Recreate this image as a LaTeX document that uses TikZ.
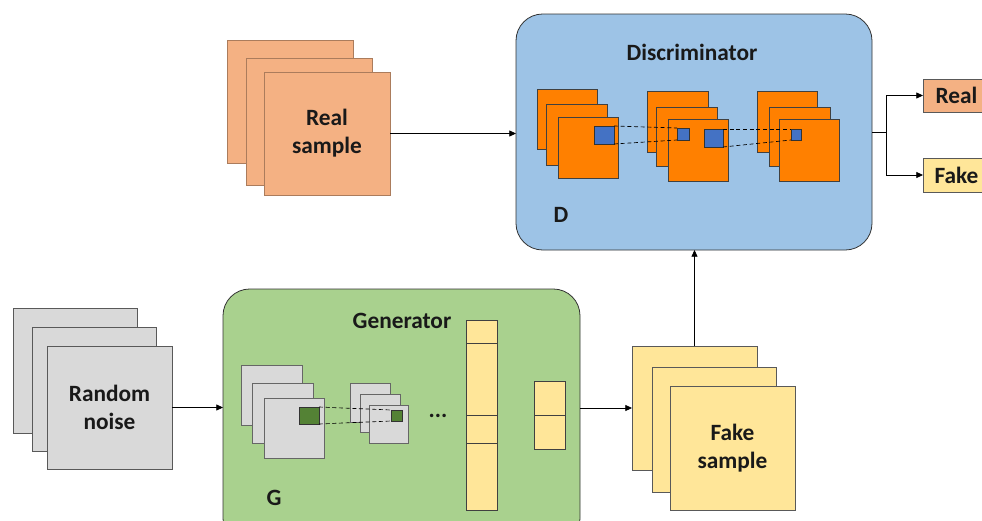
\documentclass[tikz,border=0pt]{standalone}
\usepackage{fontspec}
\setmainfont{Carlito}
\usetikzlibrary{arrows.meta}

\definecolor{realc}{HTML}{F4B183}
\definecolor{fakec}{HTML}{FFE699}
\definecolor{noisec}{HTML}{D9D9D9}
\definecolor{discc}{HTML}{9DC3E6}
\definecolor{genc}{HTML}{A9D18E}
\definecolor{mapc}{HTML}{FF8000}
\definecolor{patchc}{HTML}{4472C4}
\definecolor{gpatchc}{HTML}{548235}

% panel{style}{name}{x1}{y1}{x2}{y2}{text}: node spanning two corners (pixel units)
\newcommand\panel[7]{%
  \node[#1, anchor=north west, inner sep=0pt, outer sep=0pt,
        minimum width={(#5-#3)*0.75pt}, minimum height={(#6-#4)*0.75pt}]
        (#2) at (#3,#4) {};
  \node[lbl, align=center] at (#2.center) {#7};}

\tikzset{
  lbl/.style={font=\fontsize{17.5}{21}\selectfont\bfseries, text=black!90},
  sheet/.style={draw=black!65, line width=0.5pt},
  realsheet/.style={sheet, fill=realc, draw=realc!70!black},
  fakesheet/.style={sheet, fill=fakec},
  noisesheet/.style={sheet, fill=noisec},
  netbox/.style={draw=black!80, line width=0.6pt, rounded corners=20pt},
  fmap/.style={fill=mapc, draw=black!75, line width=0.5pt},
  gmap/.style={fill=noisec, draw=black!60, line width=0.4pt},
  patch/.style={fill=patchc, draw=black!80, line width=0.5pt},
  gpatch/.style={fill=gpatchc, draw=black!80, line width=0.5pt},
  cell/.style={fill=fakec, draw=black!75, line width=0.6pt},
  link/.style={black, line width=0.5pt, dash pattern=on 3pt off 2pt},
  arr/.style={black, line width=0.6pt, -{Triangle[length=5pt,width=4.5pt]}},
  wire/.style={black, line width=0.6pt},
}

\begin{document}
\begin{tikzpicture}[x=0.75pt, y=-0.75pt]
\path[use as bounding box] (0,0) rectangle (982,521);
\clip (0,0) rectangle (982,521);
\fill[white] (0,0) rectangle (982,521);

% ---------- discriminator block ----------
\panel{netbox, fill=discc}{D}{516}{14}{872}{250}{}
\node[lbl] at (692,52) {Discriminator};
\node[lbl] at (561,215) {D};

% feature maps, first layer
\panel{fmap}{d1a}{537}{89}{597}{149}{}
\panel{fmap}{d1b}{546}{104}{607}{165}{}
\panel{fmap}{d1c}{558}{117}{618}{178}{}
\panel{patch}{p1}{594}{126}{614}{144}{}
% second layer
\panel{fmap}{d2a}{647}{91}{708}{152}{}
\panel{fmap}{d2b}{656}{107}{717}{166}{}
\panel{fmap}{d2c}{668}{119}{728}{181}{}
\panel{patch}{p2s}{677}{128}{689}{140}{}
\panel{patch}{p2b}{704}{129}{723}{147}{}
% third layer
\panel{fmap}{d3a}{757}{91}{817}{152}{}
\panel{fmap}{d3b}{769}{107}{830}{166}{}
\panel{fmap}{d3c}{779}{119}{839}{181}{}
\panel{patch}{p3s}{791}{129}{801}{140}{}

% receptive-field links
\draw[link] (p1.north east) -- (p2s.north west);
\draw[link] (p1.south east) -- (p2s.south west);
\draw[link] (p2b.north east) -- (p3s.north west);
\draw[link] (p2b.south east) -- (p3s.south west);

% ---------- generator block ----------
\panel{netbox, fill=genc}{G}{223}{289}{580}{545}{}
\node[lbl] at (402,321) {Generator};
\node[lbl] at (274,498) {G};

\panel{gmap}{g1a}{241}{365}{302}{425}{}
\panel{gmap}{g1b}{252}{383}{313}{443}{}
\panel{gmap}{g1c}{264}{398}{324}{458}{}
\panel{gpatch}{q1}{299}{407}{319}{424}{}
\panel{gmap}{g2a}{350}{383}{390}{422}{}
\panel{gmap}{g2b}{360}{394}{400}{432}{}
\panel{gmap}{g2c}{369}{405}{408}{443}{}
\panel{gpatch}{q2}{391}{410}{402}{421}{}
\draw[link] (q1.north east) -- (q2.north west);
\draw[link] (q1.south east) -- (q2.south west);
\node[lbl] at (438,416) {...};

% dense layers
\panel{cell}{v1}{466}{320}{497}{343}{}
\panel{cell}{v2}{466}{343}{497}{415}{}
\panel{cell}{v3}{466}{415}{497}{443}{}
\panel{cell}{v4}{466}{443}{497}{510}{}
\panel{cell}{w1}{534}{381}{565}{415}{}
\panel{cell}{w2}{534}{415}{565}{449}{}

% ---------- inputs and outputs ----------
\panel{realsheet}{r1}{227}{40}{353}{163}{}
\panel{realsheet}{r2}{246}{58}{372}{185}{}
\panel{realsheet}{r3}{264}{72}{390}{195}{Real\\sample}

\panel{noisesheet}{n1}{13}{308}{137}{433}{}
\panel{noisesheet}{n2}{32}{327}{156}{451}{}
\panel{noisesheet}{n3}{47}{346}{172}{469}{Random\\noise}

\panel{fakesheet}{f1}{632}{346}{757}{470}{}
\panel{fakesheet}{f2}{652}{367}{776}{492}{}
\panel{fakesheet}{f3}{670}{386}{795}{510}{Fake\\sample}

\panel{sheet, fill=realc}{outR}{923}{79}{990}{112}{Real}
\panel{sheet, fill=fakec}{outF}{923}{158}{990}{192}{Fake}

% ---------- connectors ----------
\draw[arr] (r3.east) -- (D.west |- r3.east);
\draw[arr] (n3.east) -- (G.west |- n3.east);
\draw[arr] (G.east |- f1.west) -- (f1.west);
\draw[arr] (f1.north) -- (D.south -| f1.north);
\coordinate (split) at (886,132);
\draw[wire] (D.east |- split) -- (split);
\draw[arr] (split) |- (outR.west);
\draw[arr] (split) |- (outF.west);
\end{tikzpicture}
\end{document}
